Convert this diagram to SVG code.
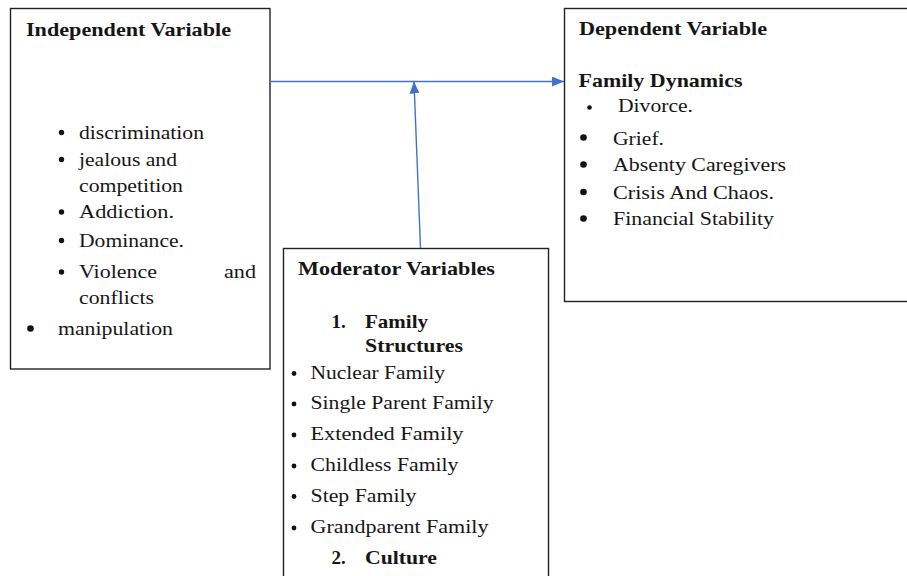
<svg xmlns="http://www.w3.org/2000/svg" width="907" height="576" viewBox="0 0 907 576">
<style>
.box{fill:#fff;stroke:#222;stroke-width:1.4}
.t{font-family:"Liberation Serif","Times New Roman",serif;font-size:18px;fill:#161616}
.b{font-family:"Liberation Serif","Times New Roman",serif;font-size:19px;font-weight:bold;fill:#161616}
.dot{fill:#111}
.con{stroke:#4472C4;stroke-width:1.4;fill:none}
</style>
<defs>
<marker id="ah" markerUnits="userSpaceOnUse" markerWidth="12" markerHeight="10" refX="12" refY="5" orient="auto">
<path d="M0,0 L12,5 L0,10 z" fill="#4472C4"/>
</marker>
</defs>
<rect x="0" y="0" width="907" height="576" fill="#fff"/>
<g id="independent">
<rect class="box" x="10.5" y="8.5" width="259.5" height="360.5"/>
<text class="b" x="26" y="36" textLength="205" lengthAdjust="spacingAndGlyphs">Independent Variable</text>
<circle class="dot" cx="61.5" cy="132.5" r="2.7"/>
<text class="t" x="79" y="138.5" textLength="125" lengthAdjust="spacingAndGlyphs">discrimination</text>
<circle class="dot" cx="61.5" cy="159.5" r="2.7"/>
<text class="t" x="79" y="165.5" textLength="98" lengthAdjust="spacingAndGlyphs">jealous and</text>
<text class="t" x="79" y="192" textLength="104" lengthAdjust="spacingAndGlyphs">competition</text>
<circle class="dot" cx="61.5" cy="212" r="2.7"/>
<text class="t" x="79" y="218" textLength="95" lengthAdjust="spacingAndGlyphs">Addiction.</text>
<circle class="dot" cx="61.5" cy="240.5" r="2.7"/>
<text class="t" x="79" y="246.5" textLength="105" lengthAdjust="spacingAndGlyphs">Dominance.</text>
<circle class="dot" cx="61.5" cy="272" r="2.7"/>
<text class="t" x="79" y="278" textLength="78" lengthAdjust="spacingAndGlyphs">Violence</text>
<text class="t" x="224" y="278" textLength="32" lengthAdjust="spacingAndGlyphs">and</text>
<text class="t" x="79" y="304" textLength="75" lengthAdjust="spacingAndGlyphs">conflicts</text>
<circle class="dot" cx="30.5" cy="328.5" r="3.3"/>
<text class="t" x="58" y="335" textLength="115" lengthAdjust="spacingAndGlyphs">manipulation</text>
</g>
<g id="dependent">
<rect class="box" x="564.5" y="8.5" width="346" height="293"/>
<text class="b" x="579" y="35" textLength="188" lengthAdjust="spacingAndGlyphs">Dependent Variable</text>
<text class="b" x="578.5" y="87" textLength="164" lengthAdjust="spacingAndGlyphs">Family Dynamics</text>
<circle class="dot" cx="589.5" cy="107.5" r="2.3"/>
<text class="t" x="618" y="111.5" textLength="75" lengthAdjust="spacingAndGlyphs">Divorce.</text>
<circle class="dot" cx="583.5" cy="137.5" r="3.3"/>
<text class="t" x="613" y="145" textLength="51" lengthAdjust="spacingAndGlyphs">Grief.</text>
<circle class="dot" cx="583.5" cy="164.5" r="3.3"/>
<text class="t" x="613" y="171" textLength="173" lengthAdjust="spacingAndGlyphs">Absenty Caregivers</text>
<circle class="dot" cx="583.5" cy="192" r="3.3"/>
<text class="t" x="613" y="198.5" textLength="161" lengthAdjust="spacingAndGlyphs">Crisis And Chaos.</text>
<circle class="dot" cx="583.5" cy="218.5" r="3.3"/>
<text class="t" x="613" y="225" textLength="161" lengthAdjust="spacingAndGlyphs">Financial Stability</text>
</g>
<g id="moderator">
<rect class="box" x="283.5" y="248.5" width="265" height="340"/>
<text class="b" x="298" y="275" textLength="197" lengthAdjust="spacingAndGlyphs">Moderator Variables</text>
<text class="b" x="331.5" y="327.5">1.</text>
<text class="b" x="365" y="327.5" textLength="63" lengthAdjust="spacingAndGlyphs">Family</text>
<text class="b" x="365" y="352" textLength="98" lengthAdjust="spacingAndGlyphs">Structures</text>
<circle class="dot" cx="294" cy="373.5" r="2.4"/>
<text class="t" x="310.5" y="378.5" textLength="134.5" lengthAdjust="spacingAndGlyphs">Nuclear Family</text>
<circle class="dot" cx="294" cy="404" r="2.4"/>
<text class="t" x="310.5" y="409" textLength="183" lengthAdjust="spacingAndGlyphs">Single Parent Family</text>
<circle class="dot" cx="294" cy="435" r="2.4"/>
<text class="t" x="310.5" y="440" textLength="153" lengthAdjust="spacingAndGlyphs">Extended Family</text>
<circle class="dot" cx="294" cy="466" r="2.4"/>
<text class="t" x="310.5" y="471" textLength="148" lengthAdjust="spacingAndGlyphs">Childless Family</text>
<circle class="dot" cx="294" cy="496.5" r="2.4"/>
<text class="t" x="310.5" y="501.5" textLength="106" lengthAdjust="spacingAndGlyphs">Step Family</text>
<circle class="dot" cx="294" cy="528" r="2.4"/>
<text class="t" x="310.5" y="533" textLength="178" lengthAdjust="spacingAndGlyphs">Grandparent Family</text>
<text class="b" x="331.5" y="563.5">2.</text>
<text class="b" x="365" y="563.5" textLength="72" lengthAdjust="spacingAndGlyphs">Culture</text>
</g>
<g id="connectors">
<line class="con" x1="270" y1="81.5" x2="564" y2="81.5" marker-end="url(#ah)"/>
<line class="con" x1="420.5" y1="248" x2="414" y2="81.5" marker-end="url(#ah)"/>
</g>
</svg>
